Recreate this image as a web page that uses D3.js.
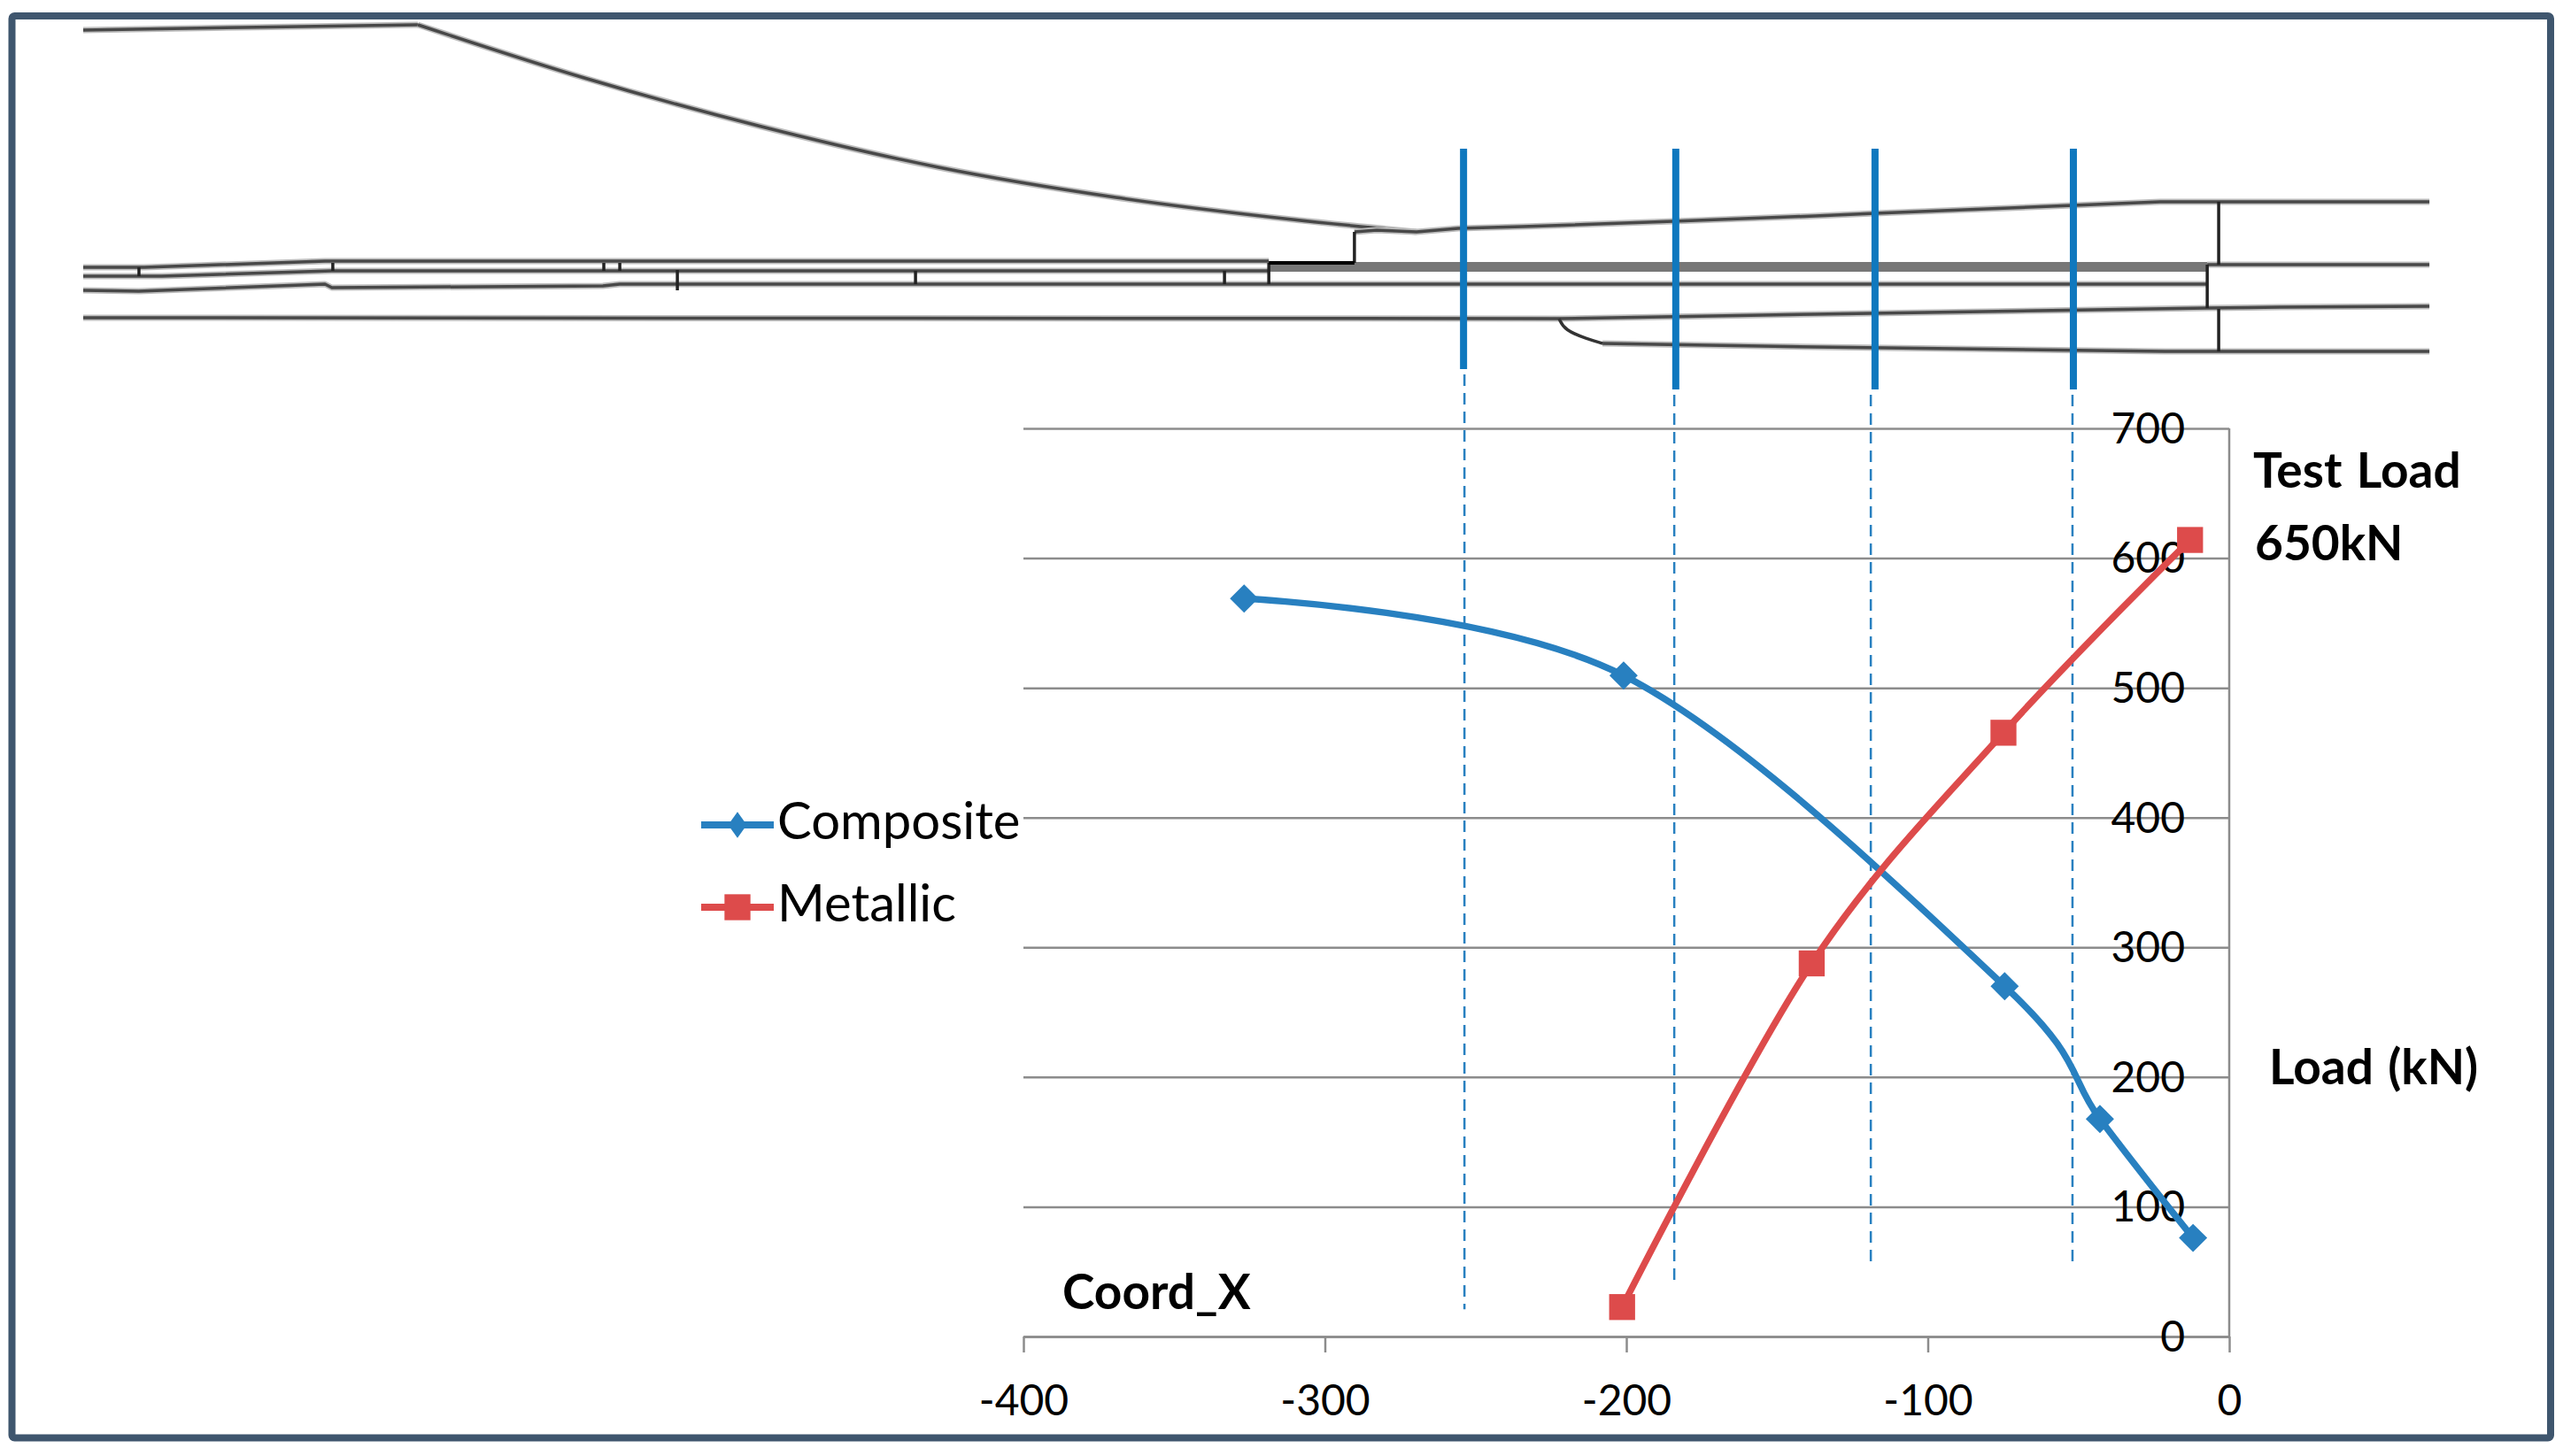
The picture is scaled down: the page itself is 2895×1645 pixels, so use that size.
<!DOCTYPE html>
<html>
<head>
<meta charset="utf-8">
<script src="https://cdn.jsdelivr.net/npm/d3@7"></script>
<style>
  html, body { margin: 0; padding: 0; background: #fff; }
  text { font-family: Lato, "Open Sans", sans-serif; fill: #000; }
</style>
</head>
<body>
<div id="vis"></div>
<script>
const FRAME_WIDTH = 2895;
const FRAME_HEIGHT = 1645;
const MARGINS = {left: 1156, right: 377, top: 484, bottom: 135};

// chart values
const X_TICKS = [-400, -300, -200, -100, 0];
const Y_TICKS = [0, 100, 200, 300, 400, 500, 600, 700];

const COMPOSITE_X = [-326.8, -200.9, -74.5, -42.9, -12];
const COMPOSITE_Y = [568.8, 509.5, 270, 167.7, 76];
const METALLIC_X = [-201.4, -138.5, -74.9, -13];
const METALLIC_Y = [22.7, 287.6, 465.4, 614];

// section cuts, solid in the drawing and dashed down into the plot
const CUT_X = [-254, -183.6, -117.5, -51.7];
const CUT_TOP = 232;
const CUT_BOTTOM = [-17, -40, -40, -40];
const GUIDE_X = [-253.7, -184.1, -118.9, -52];
const GUIDE_LOAD = [21, 43, 57, 57];

// side view of the joint: [station (Coord_X), height in drawing units]
const SKIN_FLAT = [[-711.9, 366], [-659, 369], [-600.9, 372]];
const SKIN_TAPER = [[-600.9, 372], [-545.7, 312], [-486.9, 257], [-428.2, 211], [-369.4, 177], [-310.7, 152], [-269.6, 138]];
const SKIN_RISE = [[-290.2, 138], [-282.8, 140], [-269.6, 138], [-255.8, 142], [-234.4, 144], [-184.4, 150],
  [-137.4, 156], [-117.5, 159], [-51.7, 168], [-22.9, 172], [66.4, 172]];
const FILLET = [[-222.3, 40], [-220.5, 27], [-213, 17], [-207.9, 12]];
const OUTLINES = [
  [[-711.9, 98], [-691.6, 98], [-631.7, 105], [-318.6, 105]],
  [[-711.9, 88], [-685.8, 88], [-629.4, 94], [-318.6, 94]],
  [[-711.9, 72], [-693.4, 71], [-631.7, 79], [-629.4, 75], [-539.5, 77], [-533.9, 79], [-7.3, 79]],
  [[-711.9, 41], [-222.3, 40], [-137.4, 45], [-7.3, 52], [16.7, 53], [66.4, 54]],
  [[-7.3, 101], [66.4, 101]],
  [[-207.9, 12], [-137.4, 8], [-21.4, 3], [66.4, 3]]
];
const BAND_STATIONS = [-318.6, -7.3];
const BAND_HEIGHTS = [104, 93];
const THIN_LINES = [
  [[-693.4, 98], [-693.4, 88]], [[-629.1, 103], [-629.1, 94]], [[-539.2, 103], [-539.2, 94]],
  [[-533.9, 103], [-533.9, 94]], [[-514.8, 95], [-514.8, 72]], [[-435.8, 94], [-435.8, 79]],
  [[-333.3, 94], [-333.3, 79]], [[-318.6, 103], [-318.6, 79]], [[-290.2, 138], [-290.2, 103]],
  [[-7.3, 101], [-7.3, 52]], [[-3.5, 172], [-3.5, 101]], [[-3.5, 51], [-3.5, 3]]
];
const STEP_LINE = [[-318.6, 103], [-290.2, 103]];

const LEGEND_NAMES = ["Composite", "Metallic"];
const NOTES = ["Test Load", "650kN", "Load (kN)", "Coord_X"];

const BLUE = "#2880c0";
const RED = "#dd4b4b";
const AXIS_GREY = "#8c8c8c";

const FRAME = d3.select("#vis")
  .append("svg")
  .attr("width", FRAME_WIDTH)
  .attr("height", FRAME_HEIGHT)
  .style("display", "block");

FRAME.append("rect")
  .attr("x", 13.5)
  .attr("y", 18)
  .attr("width", 2867.5)
  .attr("height", 1606.5)
  .attr("rx", 3)
  .attr("fill", "#fff")
  .attr("stroke", "#3f566e")
  .attr("stroke-width", 8);

const X_SCALE = d3.scaleLinear()
  .domain([-400, 0])
  .range([MARGINS.left, FRAME_WIDTH - MARGINS.right]);
const Y_SCALE = d3.scaleLinear()
  .domain([0, 700])
  .range([FRAME_HEIGHT - MARGINS.bottom, MARGINS.top]);
const DRAW_Y = d3.scaleLinear().domain([0, 400]).range([400, 0]);

// drawing on top
const drawLine = d3.line().x(d => X_SCALE(d[0])).y(d => DRAW_Y(d[1]));
const drawCurve = d3.line().x(d => X_SCALE(d[0])).y(d => DRAW_Y(d[1])).curve(d3.curveMonotoneX);

const DRAWING = FRAME.append("g").attr("fill", "none").attr("stroke-linejoin", "round");

function heavyLine(path) {
  DRAWING.append("path").attr("d", path).attr("stroke", "#bdbdbd").attr("stroke-width", 7);
  DRAWING.append("path").attr("d", path).attr("stroke", "#484848").attr("stroke-width", 3.5);
}

heavyLine(drawLine(SKIN_FLAT));
heavyLine(drawCurve(SKIN_TAPER));
heavyLine(drawLine(SKIN_RISE));
OUTLINES.forEach(o => heavyLine(drawLine(o)));
DRAWING.append("path").attr("d", d3.line().x(d => X_SCALE(d[0])).y(d => DRAW_Y(d[1])).curve(d3.curveBasis)(FILLET))
  .attr("stroke", "#333").attr("stroke-width", 3.5);

DRAWING.append("rect")
  .attr("x", X_SCALE(BAND_STATIONS[0]))
  .attr("y", DRAW_Y(BAND_HEIGHTS[0]))
  .attr("width", X_SCALE(BAND_STATIONS[1]) - X_SCALE(BAND_STATIONS[0]))
  .attr("height", DRAW_Y(BAND_HEIGHTS[1]) - DRAW_Y(BAND_HEIGHTS[0]))
  .attr("fill", "#777");

DRAWING.selectAll(".thin")
  .data(THIN_LINES)
  .enter()
  .append("path")
  .attr("class", "thin")
  .attr("d", d => drawLine(d))
  .attr("stroke", "#222")
  .attr("stroke-width", 3.5);

DRAWING.append("path").attr("d", drawLine(STEP_LINE)).attr("stroke", "#000").attr("stroke-width", 4);

FRAME.selectAll(".cut")
  .data(CUT_X)
  .enter()
  .append("line")
  .attr("class", "cut")
  .attr("x1", d => X_SCALE(d))
  .attr("x2", d => X_SCALE(d))
  .attr("y1", DRAW_Y(CUT_TOP))
  .attr("y2", (d, i) => DRAW_Y(CUT_BOTTOM[i]))
  .attr("stroke", "#0f78be")
  .attr("stroke-width", 8);

// plot
const GRID = FRAME.append("g")
  .attr("transform", "translate(" + (FRAME_WIDTH - MARGINS.right) + ",0)")
  .call(d3.axisLeft(Y_SCALE).tickValues(Y_TICKS).tickSize(X_SCALE(0) - X_SCALE(-400)).tickFormat(""));
GRID.select(".domain").remove();
GRID.selectAll("line").attr("stroke", AXIS_GREY).attr("stroke-width", 2.5);

FRAME.selectAll(".guide")
  .data(GUIDE_X)
  .enter()
  .append("line")
  .attr("class", "guide")
  .attr("x1", d => X_SCALE(d))
  .attr("x2", d => X_SCALE(d))
  .attr("y1", (d, i) => DRAW_Y(CUT_BOTTOM[i]) + 6)
  .attr("y2", (d, i) => Y_SCALE(GUIDE_LOAD[i]))
  .attr("stroke", BLUE)
  .attr("stroke-width", 2.5)
  .attr("stroke-dasharray", "13 8");

const X_AXIS = FRAME.append("g")
  .attr("transform", "translate(0," + Y_SCALE(0) + ")")
  .call(d3.axisBottom(X_SCALE).tickValues(X_TICKS).tickSize(18).tickSizeOuter(0).tickPadding(37).tickFormat(d => String(d)));
X_AXIS.selectAll("line").attr("stroke", AXIS_GREY).attr("stroke-width", 2.5);
X_AXIS.select(".domain").attr("stroke", AXIS_GREY).attr("stroke-width", 2.5);
X_AXIS.selectAll("text").style("font-family", "Lato").style("font-size", "48px");

FRAME.append("line")
  .attr("x1", X_SCALE(0))
  .attr("x2", X_SCALE(0))
  .attr("y1", Y_SCALE(700))
  .attr("y2", Y_SCALE(0))
  .attr("stroke", AXIS_GREY)
  .attr("stroke-width", 2.5);

const Y_AXIS = FRAME.append("g")
  .attr("transform", "translate(2468,1)")
  .call(d3.axisLeft(Y_SCALE).tickValues(Y_TICKS).tickSize(0).tickPadding(0).tickFormat(d => String(d)));
Y_AXIS.select(".domain").remove();
Y_AXIS.selectAll("text").style("font-family", "Lato").style("font-size", "48px");

// series
const COMPOSITE = COMPOSITE_X.map((x, i) => [x, COMPOSITE_Y[i]]);
const METALLIC = METALLIC_X.map((x, i) => [x, METALLIC_Y[i]]);

const seriesLine = d3.line()
  .x(d => X_SCALE(d[0]))
  .y(d => Y_SCALE(d[1]))
  .curve(d3.curveCardinal.tension(0));

const DIAMOND = d3.symbol().type(d3.symbolDiamond2).size(650);
const SQUARE = d3.symbol().type(d3.symbolSquare).size(860);

FRAME.append("path").attr("d", seriesLine(COMPOSITE)).attr("fill", "none").attr("stroke", BLUE).attr("stroke-width", 7.5);
FRAME.append("path").attr("d", seriesLine(METALLIC)).attr("fill", "none").attr("stroke", RED).attr("stroke-width", 7.5);

FRAME.selectAll(".composite")
  .data(COMPOSITE)
  .enter()
  .append("path")
  .attr("class", "composite")
  .attr("d", DIAMOND)
  .attr("transform", d => "translate(" + X_SCALE(d[0]) + "," + Y_SCALE(d[1]) + ")")
  .attr("fill", BLUE);

FRAME.selectAll(".metallic")
  .data(METALLIC)
  .enter()
  .append("path")
  .attr("class", "metallic")
  .attr("d", SQUARE)
  .attr("transform", d => "translate(" + X_SCALE(d[0]) + "," + Y_SCALE(d[1]) + ")")
  .attr("fill", RED);

// legend
const LEGEND_COLORS = [BLUE, RED];
const LEGEND_SYMBOLS = [DIAMOND, SQUARE];
const LEGEND_MARK = ["translate(41,0) scale(0.66,0.92)", "translate(41,0)"];
const LEGEND = FRAME.selectAll(".legend")
  .data(LEGEND_NAMES)
  .enter()
  .append("g")
  .attr("class", "legend")
  .attr("transform", (d, i) => "translate(792," + (932 + i * 93) + ")");
LEGEND.append("line")
  .attr("x2", 82)
  .attr("stroke", (d, i) => LEGEND_COLORS[i])
  .attr("stroke-width", 8);
LEGEND.append("path")
  .attr("d", (d, i) => LEGEND_SYMBOLS[i]())
  .attr("transform", (d, i) => LEGEND_MARK[i])
  .attr("fill", (d, i) => LEGEND_COLORS[i]);
LEGEND.append("text")
  .attr("x", 86)
  .attr("y", 16)
  .style("font-size", "58px")
  .text(d => d);

// notes
const NOTE_X = [2545, 2547, 2563, 1200];
const NOTE_Y = [532, 614, 1206, 1460];
FRAME.selectAll(".note")
  .data(NOTES)
  .enter()
  .append("text")
  .attr("class", "note")
  .attr("x", (d, i) => NOTE_X[i])
  .attr("y", (d, i) => NOTE_Y[i])
  .attr("dy", "0.35em")
  .style("font-size", "55px")
  .style("font-weight", "700")
  .style("word-spacing", "3px")
  .text(d => d);
</script>
</body>
</html>
